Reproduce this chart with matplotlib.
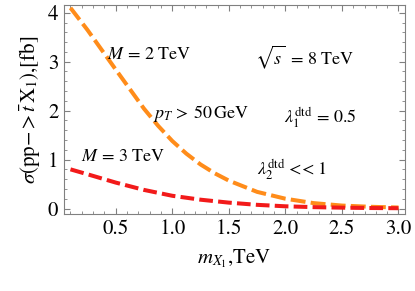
import matplotlib
matplotlib.use('Agg')
import matplotlib.pyplot as plt
from matplotlib.ticker import MultipleLocator

plt.rcParams['font.family'] = 'STIXGeneral'
plt.rcParams['mathtext.fontset'] = 'stix'

# cross sections
m_x1 = [0.1, 0.25, 0.5, 0.75, 0.875, 1.0, 1.125, 1.25, 1.375, 1.5,
        1.75, 2.0, 2.25, 2.5, 2.75, 3.0]
sigma_m2 = [4.10, 3.65, 2.84, 2.04, 1.69, 1.38, 1.12, 0.90, 0.72, 0.57,
            0.34, 0.20, 0.11, 0.06, 0.035, 0.02]
sigma_m3 = [0.80, 0.70, 0.53, 0.38, 0.32, 0.26, 0.22, 0.18, 0.15, 0.12,
            0.075, 0.045, 0.028, 0.017, 0.01, 0.006]

fig = plt.figure(figsize=(4.15, 2.91), dpi=100)
ax = fig.add_axes([0.154, 0.265, 0.822, 0.718])

ax.plot(m_x1, sigma_m2, color='#FF8C1A', lw=2.9, dashes=(3.7, 1.3),
        dash_capstyle='butt')
ax.plot(m_x1, sigma_m3, color='#F21A1A', lw=2.9, dashes=(3.4, 1.3),
        dash_capstyle='butt')

ax.set_xlim(0.042, 3.058)
ax.set_ylim(-0.11, 4.16)
ax.xaxis.set_minor_locator(MultipleLocator(0.1))
ax.yaxis.set_major_locator(MultipleLocator(1))
ax.yaxis.set_minor_locator(MultipleLocator(0.2))
ax.set_xticks([0.5, 1.0, 1.5, 2.0, 2.5, 3.0])
ax.set_xticklabels(['0.5', '1.0', '1.5', '2.0', '2.5', '3.0'])
ax.tick_params(which='both', direction='in', top=True, right=True,
               color='#808080', labelsize=15, pad=4)
ax.tick_params(which='major', length=4, width=0.8)
ax.tick_params(which='minor', length=2.5, width=0.6)
for s in ax.spines.values():
    s.set_color('#808080')
    s.set_linewidth(0.8)

ax.set_xlabel(r'$m_{X_1}$,TeV', fontsize=15, labelpad=6)
ax.set_ylabel(r'$\sigma(\mathrm{pp}{-}{>}\bar{t}\,\mathrm{X}_1)$,[fb]',
              fontsize=15, labelpad=4)

fs = 13
ax.text(0.42, 3.13, r'$M\,=\,2\ \mathrm{TeV}$', fontsize=fs, va='center')
ax.text(1.73, 3.09, r'$\sqrt{s}\ =\,8\ \mathrm{TeV}$', fontsize=fs, va='center')
ax.text(0.83, 1.94, r'$p_T\,>\,50\,\mathrm{GeV}$', fontsize=fs, va='center')
ax.text(1.99, 1.85, r'$\lambda_1^{\mathrm{dtd}}\,=\,0.5$', fontsize=fs, va='center')
ax.text(0.195, 1.06, r'$M\,=\,3\ \mathrm{TeV}$', fontsize=fs, va='center')
ax.text(1.75, 0.8, r'$\lambda_2^{\mathrm{dtd}}$ << 1', fontsize=fs, va='center')

fig.savefig('out.png', dpi=100)
